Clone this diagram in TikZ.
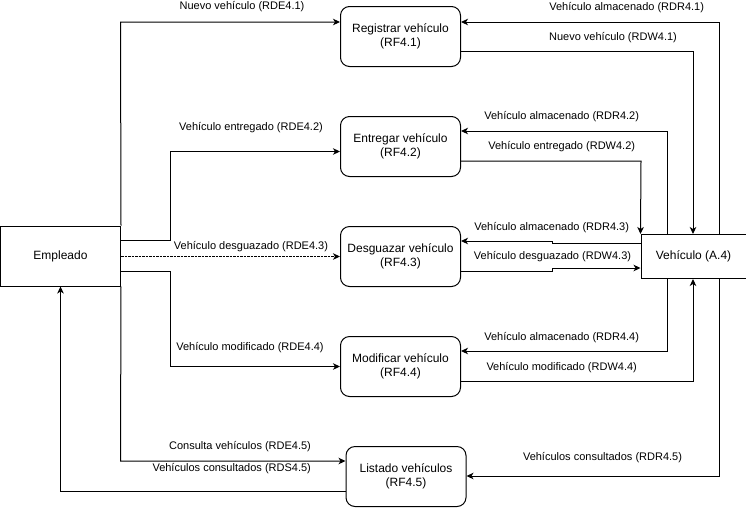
\documentclass[tikz,border=0pt]{standalone}
\usepackage{fontspec}
\setmainfont{Liberation Sans}
\usetikzlibrary{arrows.meta}
\begin{document}
\begin{tikzpicture}[x=1pt,y=-1pt,
  every node/.style={inner sep=0pt},
  proc/.style={draw, line width=1pt, rounded corners=9pt, minimum width=120pt, minimum height=60pt, align=center, font=\fontsize{12pt}{14pt}\selectfont},
  ent/.style={draw, line width=1pt, align=center, font=\fontsize{12pt}{14pt}\selectfont},
  lbl/.style={font=\fontsize{11pt}{13pt}\selectfont},
  arr/.style={line width=1pt, -{Stealth[length=7pt,width=6.5pt,inset=2pt]}},
  dotl/.style={dash pattern=on 2.5pt off 1pt}
]
\useasboundingbox (0,0) rectangle (746,507);
% entities
\node[ent, minimum width=120pt, minimum height=60pt] (emp) at (60.5,256) {Empleado};
\node[ent, minimum width=108pt, minimum height=44pt] (veh) at (695,256.5) {};
\node (vehtxt) at (693.5,256) {\fontsize{12pt}{14pt}\selectfont Vehículo (A.4)};
% processes
\node[proc] (r1) at (400.5,36.5) {Registrar vehículo\\(RF4.1)};
\node[proc] (r2) at (400.5,146.5) {Entregar vehículo\\(RF4.2)};
\node[proc] (r3) at (400.5,256.5) {Desguazar vehículo\\(RF4.3)};
\node[proc] (r4) at (400.5,366.5) {Modificar vehículo\\(RF4.4)};
\node[proc] (r5) at (406,476.5) {Listado vehículos\\(RF4.5)};
% left connectors
\draw[arr] (emp.north east) -- (120.5,22) -- (r1.west |- 0,22);
\draw[arr] (emp.east |- 0,240.5) -- (170.5,240.5) -- (170.5,151.5) -- (r2.west |- 0,151.5);
\draw[arr, dotl] (emp.east |- r3.west) -- (r3.west);
\draw[arr] (emp.east |- 0,271.5) -- (170.5,271.5) -- (170.5,366.5) -- (r4.west);
\draw[arr] (emp.south east) -- (120.5,461) -- (r5.west |- 0,461);
\draw[arr] (r5.west |- 0,491) -- (60.5,491) -- (emp.south);
% right connectors
\draw[arr] (veh.north -| 719,0) -- (719,22) -- (r1.east |- 0,22);
\draw[arr] (r1.east |- 0,51.5) -- (693,51.5) -- (veh.north -| 693,0);
\draw[arr] (veh.north -| 667,0) -- (667,131) -- (r2.east |- 0,131);
\draw[arr] (r2.east |- 0,161) -- (641,161) -- (veh.north west);
\draw[arr] (veh.west |- 0,243) -- (552,243) -- (552,241) -- (r3.east |- 0,241);
\draw[arr] (r3.east |- 0,271.5) -- (552,271.5) -- (552,268) -- (veh.west |- 0,268);
\draw[arr] (veh.south -| 667,0) -- (667,351) -- (r4.east |- 0,351);
\draw[arr] (r4.east |- 0,381) -- (693,381) -- (veh.south -| 693,0);
\draw[arr] (veh.south -| 719,0) -- (719,476) -- (r5.east |- 0,476);
% labels
\node[lbl] (l1) at (242,7) {Nuevo vehículo (RDE4.1)};
\node[lbl] (l2) at (251,128) {Vehículo entregado (RDE4.2)};
\node[lbl] (l3) at (251,246.5) {Vehículo desguazado (RDE4.3)};
\node[lbl] (l4) at (250,347.5) {Vehículo modificado (RDE4.4)};
\node[lbl] (l5) at (240,447) {Consulta vehículos (RDE4.5)};
\node[lbl] (l6) at (231.7,468.3) {Vehículos consultados (RDS4.5)};
\node[lbl] (l7) at (626.7,7.3) {Vehículo almacenado (RDR4.1)};
\node[lbl] (l8) at (613,37.7) {Nuevo vehículo (RDW4.1)};
\node[lbl] (l9) at (561.7,117) {Vehículo almacenado (RDR4.2)};
\node[lbl] (l10) at (561.7,147) {Vehículo entregado (RDW4.2)};
\node[lbl] (l11) at (551.7,227.7) {Vehículo almacenado (RDR4.3)};
\node[lbl] (l12) at (552.5,256.7) {Vehículo desguazado (RDW4.3)};
\node[lbl] (l13) at (561.7,337.7) {Vehículo almacenado (RDR4.4)};
\node[lbl] (l14) at (561.7,367.3) {Vehículo modificado (RDW4.4)};
\node[lbl] (l15) at (602.5,457.3) {Vehículos consultados (RDR4.5)};
\end{tikzpicture}
\end{document}
